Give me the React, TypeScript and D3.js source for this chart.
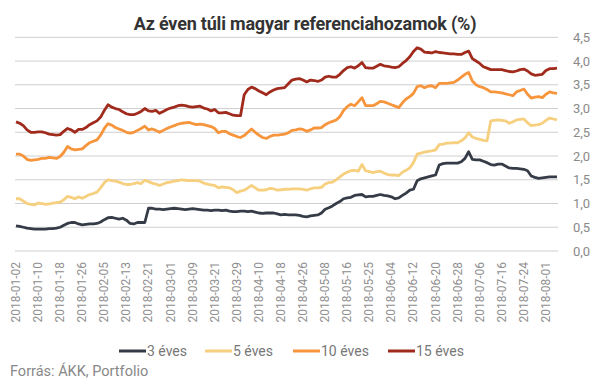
import React from "react";
import * as d3 from "d3";

const tickLabels = [
  "2018-01-02","2018-01-10","2018-01-18","2018-01-26","2018-02-05","2018-02-13","2018-02-21",
  "2018-03-01","2018-03-09","2018-03-21","2018-03-29","2018-04-10","2018-04-18","2018-04-26",
  "2018-05-08","2018-05-16","2018-05-25","2018-06-04","2018-06-12","2018-06-20","2018-06-28",
  "2018-07-06","2018-07-16","2018-07-24","2018-08-01",
];

const holidays = ["2018-03-15","2018-03-16","2018-03-30","2018-04-02","2018-04-30","2018-05-01","2018-05-21"];

function tradingDays(start: string, count: number): string[] {
  const out: string[] = [];
  const d = new Date(start + "T12:00:00Z");
  while (out.length < count) {
    const wd = d.getUTCDay();
    const s = d.toISOString().slice(0, 10);
    if (wd !== 0 && wd !== 6 && !holidays.includes(s)) out.push(s);
    d.setUTCDate(d.getUTCDate() + 1);
  }
  return out;
}

const y3 = [
  0.53,0.52,0.50,0.48,0.47,0.46,0.46,0.46,0.46,0.47,
  0.47,0.48,0.50,0.54,0.58,0.60,0.60,0.57,0.55,0.56,
  0.57,0.57,0.58,0.61,0.66,0.70,0.71,0.69,0.67,0.69,
  0.65,0.58,0.57,0.60,0.60,0.60,0.90,0.90,0.88,0.88,
  0.87,0.88,0.89,0.90,0.89,0.88,0.87,0.88,0.89,0.88,
  0.87,0.86,0.86,0.85,0.86,0.86,0.85,0.86,0.84,0.83,
  0.83,0.84,0.84,0.83,0.84,0.82,0.80,0.79,0.80,0.80,
  0.80,0.78,0.76,0.77,0.76,0.76,0.76,0.75,0.73,0.72,
  0.74,0.75,0.76,0.80,0.88,0.91,0.95,1.00,1.04,1.10,
  1.12,1.13,1.17,1.18,1.19,1.14,1.15,1.15,1.17,1.19,
  1.17,1.16,1.14,1.10,1.12,1.17,1.22,1.28,1.30,1.48,
  1.52,1.54,1.56,1.58,1.60,1.81,1.84,1.85,1.85,1.85,
  1.85,1.88,1.95,2.09,1.93,1.92,1.92,1.89,1.86,1.82,
  1.81,1.83,1.83,1.79,1.75,1.74,1.74,1.73,1.72,1.69,
  1.58,1.55,1.53,1.54,1.55,1.56,1.56,1.56,
];

const y5 = [
  1.10,1.10,1.05,1.00,0.98,0.97,1.01,1.00,0.98,0.99,
  1.01,1.02,1.03,1.08,1.15,1.13,1.10,1.14,1.11,1.15,
  1.19,1.21,1.24,1.33,1.44,1.50,1.48,1.47,1.45,1.42,
  1.40,1.40,1.42,1.44,1.42,1.49,1.46,1.43,1.41,1.38,
  1.41,1.44,1.45,1.47,1.48,1.50,1.49,1.48,1.48,1.48,
  1.47,1.43,1.41,1.39,1.38,1.33,1.35,1.34,1.33,1.29,
  1.23,1.26,1.28,1.33,1.38,1.33,1.28,1.28,1.29,1.32,
  1.31,1.28,1.29,1.30,1.30,1.31,1.31,1.31,1.30,1.28,
  1.31,1.33,1.33,1.34,1.41,1.44,1.45,1.50,1.56,1.62,
  1.66,1.69,1.70,1.68,1.82,1.69,1.67,1.65,1.67,1.68,
  1.64,1.61,1.60,1.60,1.59,1.66,1.70,1.75,1.86,2.04,
  2.06,2.08,2.10,2.11,2.13,2.24,2.25,2.27,2.27,2.28,
  2.28,2.32,2.38,2.49,2.40,2.37,2.35,2.33,2.32,2.74,
  2.75,2.76,2.75,2.74,2.69,2.72,2.76,2.77,2.78,2.70,
  2.64,2.65,2.66,2.69,2.75,2.80,2.78,2.76,
];

const y10 = [
  2.04,2.04,2.00,1.93,1.91,1.92,1.93,1.95,1.95,1.97,
  1.96,1.95,1.99,2.08,2.20,2.15,2.13,2.14,2.15,2.22,
  2.28,2.31,2.34,2.44,2.58,2.68,2.65,2.60,2.57,2.54,
  2.50,2.48,2.50,2.54,2.58,2.63,2.55,2.57,2.54,2.50,
  2.54,2.58,2.61,2.64,2.67,2.69,2.70,2.71,2.68,2.66,
  2.67,2.66,2.64,2.62,2.58,2.49,2.52,2.52,2.47,2.44,
  2.41,2.39,2.43,2.50,2.57,2.50,2.44,2.39,2.37,2.41,
  2.44,2.44,2.45,2.46,2.49,2.54,2.55,2.57,2.56,2.52,
  2.55,2.59,2.59,2.60,2.66,2.70,2.73,2.76,2.83,2.96,
  3.04,3.09,3.06,3.14,3.23,3.06,3.06,3.06,3.10,3.15,
  3.14,3.11,3.08,3.05,3.02,3.12,3.20,3.25,3.32,3.46,
  3.48,3.44,3.47,3.48,3.44,3.53,3.53,3.53,3.54,3.55,
  3.60,3.66,3.72,3.76,3.58,3.50,3.46,3.44,3.40,3.35,
  3.35,3.34,3.33,3.31,3.29,3.27,3.35,3.38,3.41,3.30,
  3.22,3.24,3.25,3.23,3.30,3.35,3.33,3.32,
];

const y15 = [
  2.72,2.69,2.64,2.55,2.50,2.50,2.51,2.51,2.49,2.46,
  2.45,2.44,2.45,2.52,2.58,2.55,2.50,2.56,2.56,2.60,
  2.66,2.70,2.74,2.82,2.96,3.08,3.03,3.00,2.98,2.93,
  2.89,2.87,2.87,2.90,2.94,3.00,2.95,2.94,2.96,2.90,
  2.94,2.98,3.01,3.03,3.06,3.07,3.06,3.04,3.03,3.04,
  3.05,3.01,2.99,2.95,2.98,2.91,2.91,2.92,2.89,2.86,
  2.85,2.85,3.29,3.40,3.45,3.42,3.37,3.33,3.29,3.35,
  3.39,3.42,3.43,3.44,3.52,3.60,3.62,3.63,3.60,3.56,
  3.60,3.59,3.57,3.60,3.66,3.68,3.66,3.66,3.72,3.80,
  3.86,3.88,3.85,3.90,3.97,3.86,3.85,3.85,3.89,3.93,
  3.90,3.89,3.87,3.86,3.88,3.95,4.01,4.09,4.20,4.28,
  4.25,4.19,4.18,4.17,4.20,4.18,4.17,4.16,4.15,4.15,
  4.14,4.14,4.18,4.21,4.05,4.00,3.95,3.88,3.85,3.82,
  3.82,3.82,3.82,3.80,3.78,3.77,3.79,3.82,3.83,3.79,
  3.73,3.70,3.71,3.72,3.80,3.84,3.84,3.85,
];

const seriesNames = ["3 éves", "5 éves", "10 éves", "15 éves"];
const seriesColors = ["#353c47", "#f6cf7f", "#f7953d", "#a02a1c"];
const seriesValues = [y3, y5, y10, y15];
const yTicks = [0, 0.5, 1, 1.5, 2, 2.5, 3, 3.5, 4, 4.5];

const W = 607, H = 380;

export default function App() {
  const dates = tradingDays("2018-01-02", y3.length);
  const x = d3.scalePoint<string>().domain(dates).range([16, 557]);
  const y = d3.scaleLinear().domain([0, 4.5]).range([251, 37.3]);
  const fmt = (v: number) => d3.format(".1f")(v).replace(".", ",");
  const line = (vals: number[]) =>
    d3.line<number>().x((_, i) => x(dates[i]) as number).y((v) => y(v))(vals) || "";

  const legendX = [119, 205, 293, 388];

  return (
    <svg width={W} height={H} style={{ position: "absolute", left: 0, top: 0, fontFamily: "Roboto, sans-serif" }}>
      <rect width={W} height={H} fill="#fff" />
      <text x={305} y={30} textAnchor="middle" fontSize={18} fontWeight={700} fill="#333" letterSpacing={-0.2}>
        Az éven túli magyar referenciahozamok (%)
      </text>
      {yTicks.map((t) => (
        <g key={t}>
          <line x1={15} x2={558} y1={y(t)} y2={y(t)} stroke="#cfcfcf" strokeWidth={1} />
          <text x={573} y={y(t) + 4.5} fontSize={13} fill="#8a8a8a">{fmt(t)}</text>
        </g>
      ))}
      {tickLabels.map((l) => (
        <text key={l} transform={`translate(${(x(l) as number) + 4},262) rotate(-90)`} textAnchor="end" fontSize={12} fill="#8f8f8f">
          {l}
        </text>
      ))}
      {seriesValues.map((vals, k) => (
        <path key={k} d={line(vals)} fill="none" stroke={seriesColors[k]} strokeWidth={2.8} strokeLinejoin="round" />
      ))}
      {seriesNames.map((n, k) => (
        <g key={n}>
          <line x1={legendX[k]} x2={legendX[k] + 27} y1={351} y2={351} stroke={seriesColors[k]} strokeWidth={3} />
          <text x={legendX[k] + 28} y={356} fontSize={14} fill="#777">{n}</text>
        </g>
      ))}
      <text x={10} y={376} fontSize={14.5} fill="#888">Forrás: ÁKK, Portfolio</text>
    </svg>
  );
}
